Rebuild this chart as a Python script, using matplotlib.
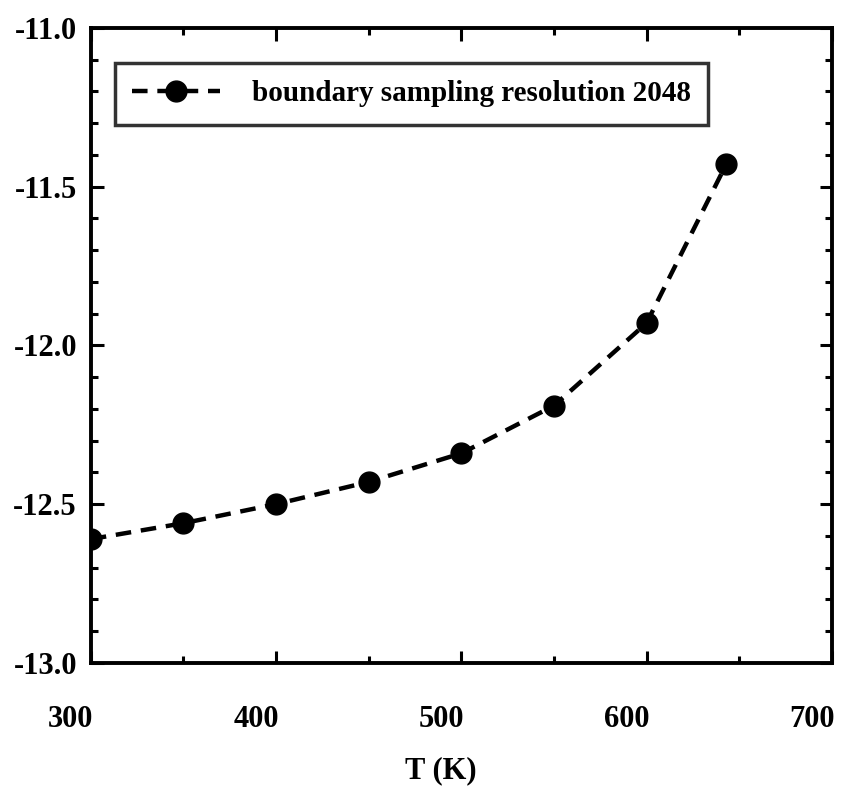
import matplotlib
matplotlib.use("Agg")
import matplotlib.pyplot as plt
import matplotlib.transforms as mtransforms
from matplotlib.ticker import MultipleLocator

# Data
temperature = [300, 350, 400, 450, 500, 550, 600, 643]
log_value = [-12.61, -12.56, -12.50, -12.43, -12.34, -12.19, -11.93, -11.43]
series_label = "boundary sampling resolution 2048"
x_label = "T (K)"

plt.rcParams['font.family'] = ['Liberation Serif', 'DejaVu Serif']
plt.rcParams['font.weight'] = 'bold'

fig = plt.figure(figsize=(8.41, 7.93), dpi=100)
ax = fig.add_axes([0.108, 0.164, 0.881, 0.801])

ax.plot(temperature, log_value, color='black', linestyle=(0, (3.5, 2.2)),
        linewidth=3.2, marker='o', markersize=15, label=series_label)

ax.set_xlim(300, 700)
ax.set_ylim(-13.0, -11.0)
ax.xaxis.set_major_locator(MultipleLocator(100))
ax.xaxis.set_minor_locator(MultipleLocator(50))
ax.yaxis.set_major_locator(MultipleLocator(0.5))
ax.yaxis.set_minor_locator(MultipleLocator(0.1))
ax.yaxis.set_major_formatter(plt.FormatStrFormatter('%.1f'))

ax.tick_params(which='both', direction='in', top=True, right=True, width=2.2)
ax.tick_params(which='major', length=9)
ax.tick_params(which='minor', length=5)
ax.tick_params(axis='x', pad=30, labelsize=22)
ax.tick_params(axis='y', pad=10, labelsize=22)
for spine in ax.spines.values():
    spine.set_linewidth(2.8)

# the scanned labels sit a little left of their ticks
shift = mtransforms.ScaledTranslation(-0.2, 0, fig.dpi_scale_trans)
for lbl in ax.get_xticklabels():
    lbl.set_transform(lbl.get_transform() + shift)

ax.set_xlabel(x_label, fontsize=22, fontweight='bold', labelpad=16)
ax.xaxis.label.set_transform(ax.xaxis.label.get_transform() + shift)

leg = ax.legend(loc='upper left', bbox_to_anchor=(0.032, 0.945), borderaxespad=0,
                fontsize=21, frameon=True, fancybox=False, handlelength=3.0,
                handletextpad=1.1, borderpad=0.6)
leg.get_frame().set_edgecolor('black')
leg.get_frame().set_linewidth(2.5)

fig.savefig("out.png", dpi=100)
